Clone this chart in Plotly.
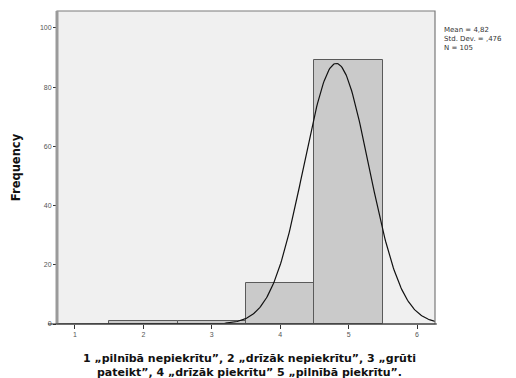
import numpy as np
import plotly.graph_objects as go

# Data
categories = [2, 3, 4, 5]
counts = [1, 1, 14, 89]
mean_val = 4.82
std_val = 0.476
n_val = 105
x_ticks = [1, 2, 3, 4, 5, 6]
y_ticks = [0, 20, 40, 60, 80, 100]
stats_text = "Mean = 4,82<br>Std. Dev. = ,476<br>N = 105"
x_title = "1 „pilnībā nepiekrītu”, 2 „drīzāk nepiekrītu”, 3 „grūti<br>pateikt”, 4 „drīzāk piekrītu” 5 „pilnībā piekrītu”."

X_RANGE = [0.737, 6.263]
Y_RANGE = [0, 105.7]

# Normal curve fitted from the stated statistics
xs = np.linspace(X_RANGE[0], X_RANGE[1], 400)
ys = n_val * 1.0 / (std_val * np.sqrt(2 * np.pi)) * np.exp(-0.5 * ((xs - mean_val) / std_val) ** 2)

TITLE_FONT = "DejaVu Sans, Arial, sans-serif"

fig = go.Figure()
fig.add_trace(go.Bar(
    x=categories, y=counts, width=1.0,
    marker=dict(color="#cacaca", line=dict(color="#5a5a5a", width=1)),
    showlegend=False, hoverinfo="skip",
))
fig.add_trace(go.Scatter(
    x=xs, y=ys, mode="lines", line=dict(color="#111111", width=1.2),
    showlegend=False, hoverinfo="skip",
))

fig.update_layout(
    width=516, height=378,
    margin=dict(l=57, r=81, t=11, b=54),
    paper_bgcolor="white", plot_bgcolor="#f0f0f0",
    font=dict(family="Liberation Sans, Arial, sans-serif", color="#333333"),
    bargap=0,
    xaxis=dict(
        range=X_RANGE, tickvals=x_ticks, ticktext=[str(v) for v in x_ticks],
        ticks="outside", ticklen=4, tickcolor="#333333", tickwidth=1,
        tickfont=dict(size=7, color="#555555"),
        showgrid=False, zeroline=False, showline=False,
        automargin=False, fixedrange=True,
    ),
    yaxis=dict(
        range=Y_RANGE, tickvals=y_ticks, ticktext=[str(v) for v in y_ticks],
        ticks="outside", ticklen=3, tickcolor="#333333", tickwidth=1,
        tickfont=dict(size=7, color="#555555"),
        showgrid=False, zeroline=False, showline=False,
        title=dict(text="Frequency", font=dict(size=11.5, color="#111111",
                   family=TITLE_FONT, weight="bold"), standoff=16),
        automargin=False, fixedrange=True,
    ),
    shapes=[
        # frame
        dict(type="rect", xref="paper", yref="paper", x0=0, x1=1, y0=0, y1=1,
             line=dict(color="#7a7a7a", width=1.2), layer="above"),
        # thick left axis
        dict(type="line", xref="paper", yref="paper", x0=0, x1=0, y0=0, y1=1,
             line=dict(color="#9a9a9a", width=3), layer="above"),
        # x axis baseline extending left
        dict(type="line", xref="paper", yref="paper", x0=-0.024, x1=1.005, y0=0, y1=0,
             line=dict(color="#222222", width=1), layer="above"),
    ],
    annotations=[
        dict(text=stats_text, xref="paper", yref="paper", x=1.018, y=0.958,
             xanchor="left", yanchor="top", showarrow=False, align="left",
             font=dict(size=7, color="#333333", family="DejaVu Sans, Arial, sans-serif")),
        dict(text=x_title, xref="paper", yref="paper", x=0.51, y=-0.131,
             xanchor="center", yanchor="middle", showarrow=False, align="center",
             font=dict(size=11, color="#111111", family=TITLE_FONT, weight="bold")),
    ],
)

fig.write_html("out.html")
